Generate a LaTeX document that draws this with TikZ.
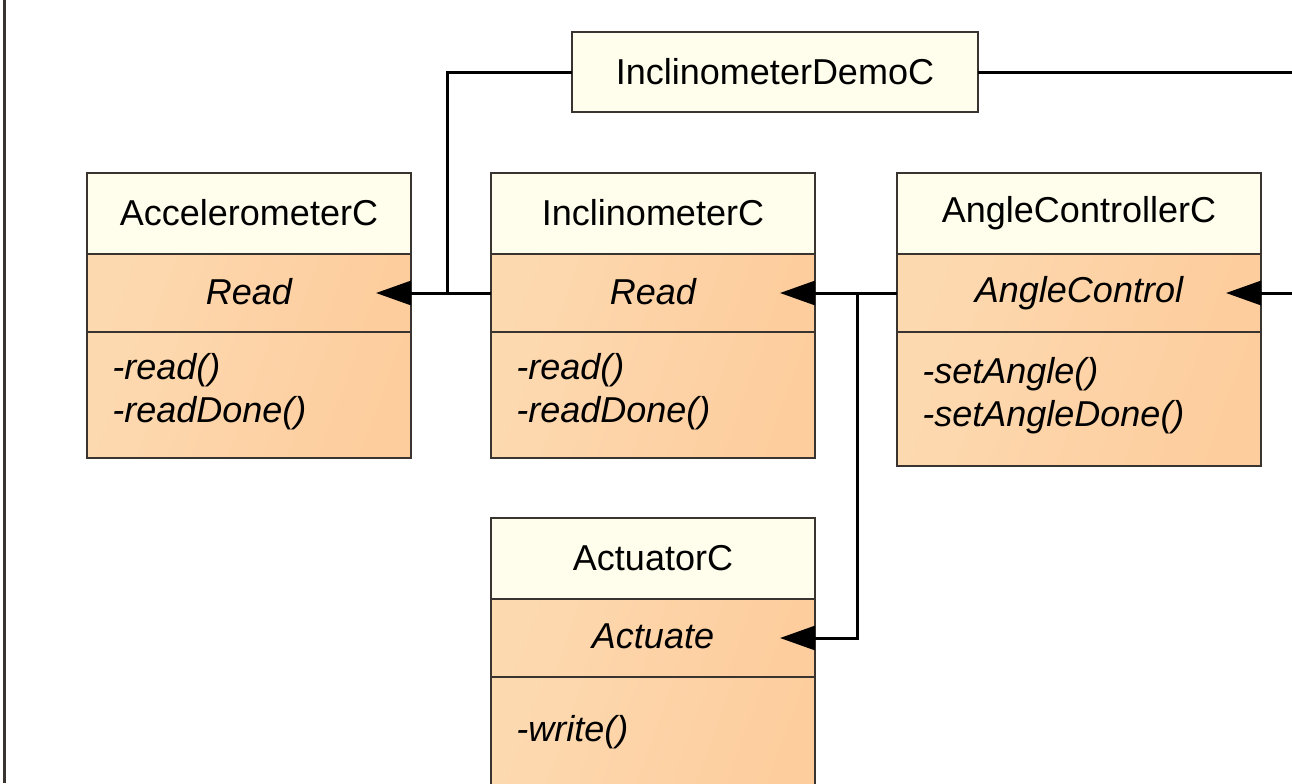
\documentclass[tikz,border=0pt]{standalone}
\usepackage{fontspec}
\setmainfont{Liberation Sans}
\usetikzlibrary{arrows.meta}
\definecolor{boxline}{HTML}{3A3430}
\definecolor{headfill}{HTML}{FFFEEC}
\definecolor{peachlight}{HTML}{FDD9B0}
\definecolor{peachdark}{HTML}{FDCD9D}
\tikzset{
    part/.style={draw=boxline, line width=1.4pt, outer sep=0pt, inner sep=0pt, rectangle},
    head/.style={part, fill=headfill, minimum height=40.5pt, font=\fontsize{18}{21.5}\selectfont},
    iface/.style={part, left color=peachlight, right color=peachdark, shading angle=70, minimum height=39pt, font=\fontsize{18}{21.5}\selectfont\itshape},
    ops/.style={part, left color=peachlight, right color=peachdark, shading angle=70},
    opstext/.style={inner sep=0pt, align=left, font=\fontsize{18}{21.5}\selectfont\itshape},
    wire/.style={line width=1.5pt, black},
    provides/.style={wire, -{Triangle[length=17.5pt,width=12pt]}, shorten >=-17.5pt}
}
% one component: name, x, y (top left, px), width, height of the operations part,
% title, interface, operations
\newcommand\classbox[8]{
    \node[head, minimum width=#4, anchor=north west] (#1) at (#2,#3) {\raisebox{1pt}{#6}};
    \node[iface, minimum width=#4, anchor=north] (#1 if) at (#1.south) {\raisebox{1.5pt}{#7}};
    \node[ops, minimum width=#4, minimum height=#5, anchor=north] (#1 ops) at (#1 if.south) {};
    \node[opstext, anchor=west] (#1 optext) at ([xshift=12.5pt,yshift=1.5pt]#1 ops.west) {#8};
}
\begin{document}
\begin{tikzpicture}[x=0.5pt, y=-0.5pt]
    \useasboundingbox (0,0) rectangle (1292,783);
    \clip (0,0) rectangle (1292,783);
    \fill[white] (0,0) rectangle (1292,783);
    \draw[boxline, line width=1.5pt] (4,0) -- (4,783);

    \node[head, minimum width=203pt, minimum height=40pt, anchor=north west] (demo) at (572,32) {\raisebox{1pt}{InclinometerDemoC}};

    \classbox{acc}{87}{173}{162pt}{63pt}{AccelerometerC}{Read}{-read()\\-readDone()}
    \classbox{incl}{491}{173}{162pt}{63pt}{InclinometerC}{Read}{-read()\\-readDone()}
    \classbox{ang}{897}{173}{182pt}{67pt}{AngleControllerC}{AngleControl}{-setAngle()\\-setAngleDone()}
    \classbox{act}{491}{518}{162pt}{58.5pt}{ActuatorC}{Actuate}{-write()}

    \coordinate (jacc) at (447,293);
    \coordinate (jincl) at (857,293);
    \coordinate (rin) at (1292,293);
    \coordinate (rout) at (1292,72);

    % wiring
    \draw[wire] (demo.west) -| (jacc);
    \draw[wire] (demo.east) -- (rout);
    \draw[provides] (incl if.west) -- (acc if.east);
    \draw[provides] (ang if.west) -- (incl if.east);
    \draw[provides] (jincl) |- (act if.east);
    \draw[provides] (rin) -- (ang if.east);
\end{tikzpicture}
\end{document}
